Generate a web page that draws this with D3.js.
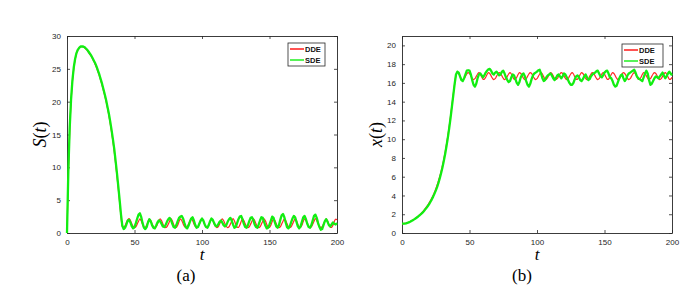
<!DOCTYPE html>
<html>
<head>
<meta charset="utf-8">
<script src="https://cdn.jsdelivr.net/npm/d3@7"></script>
<style>
  body { margin: 0; background: #fff; }
  svg { display: block; }
  .tick text { font-family: "Liberation Sans", Arial, sans-serif; font-size: 8px; fill: #262626; }
  .tick line, .domain { stroke: #262626; }
</style>
</head>
<body>
<svg width="694" height="286"></svg>
<script>
var width = 694;
var height = 286;

// time grid, step 1
var tValues = d3.range(0, 201);

// panel (a): S(t)
var ddeS = [0,9,15.5,20,23,25,26.4,27.3,27.9,28.2,28.35,28.4,28.35,28.2,28.0,27.8,27.5,27.2,26.9,26.5,
  26.1,25.6,25.1,24.5,23.9,23.2,22.5,21.7,20.9,20.0,19.0,17.9,16.7,15.4,14.0,12.4,10.6,8.7,6.7,4.6,
  2.5,1.0,0.8,1.1,1.6,2.0,
  2.2,1.9,1.4,1.0,0.82,0.95,1.35,1.8,
  2.15,1.85,1.3,0.9,0.85,1.2,1.75,
  2.1,1.9,1.4,1.0,0.82,0.95,1.35,1.8,
  2.15,1.9,1.4,1.0,0.82,0.95,1.35,1.8,
  2.2,1.85,1.3,0.9,0.85,1.2,1.75,
  2.15,1.9,1.4,1.0,0.82,0.95,1.35,1.8,
  2.2,1.9,1.4,1.0,0.82,0.95,1.35,1.8,
  2.15,1.85,1.3,0.9,0.85,1.2,1.75,
  2.1,1.9,1.4,1.0,0.82,0.95,1.35,1.8,
  2.15,1.9,1.4,1.0,0.82,0.95,1.35,1.8,
  2.2,1.85,1.3,0.9,0.85,1.2,1.75,
  2.15,1.9,1.4,1.0,0.82,0.95,1.35,1.8,
  2.2,1.9,1.4,1.0,0.82,0.95,1.35,1.8,
  2.15,1.85,1.3,0.9,0.85,1.2,1.75,
  2.1,1.9,1.4,1.0,0.82,0.95,1.35,1.8,
  2.15,1.9,1.4,1.0,0.82,0.95,1.35,1.8,
  2.2,1.85,1.3,0.9,0.85,1.2,1.75,
  2.15,1.9,1.4,1.0,0.82,0.95,1.35,1.8,
  2.2,1.9,1.4,1.0,0.82,0.95,1.35,1.8,
  2.15,1.85,1.3,0.9,0.85,1.2,1.75,
  2.1,2.0];

var sdeS = [0,9.5,16,20.3,23.2,25.2,26.5,27.4,27.9,28.2,28.4,28.4,28.4,28.3,28.1,27.9,27.6,27.3,27.0,26.6,
  26.2,25.8,25.3,24.7,24.1,23.4,22.7,21.9,21.1,20.2,19.2,18.2,17.0,15.7,14.3,12.8,11.0,9.1,7.1,5.0,
  2.8,1.1,0.6,0.8,1.3,1.9,2.0,1.6,1.0,0.7,
  0.9,1.5,2.2,2.8,3.0,2.4,1.5,0.8,0.6,0.9,
  1.6,2.1,1.8,1.2,0.8,0.7,1.1,1.6,1.9,1.8,
  1.4,1.0,0.9,1.2,1.7,2.1,2.3,2.0,1.4,0.9,
  0.8,1.2,1.8,2.3,2.5,2.6,2.2,1.5,0.9,0.7,
  1.1,1.7,2.2,2.4,1.9,1.2,0.8,0.9,1.4,1.9,
  2.2,1.9,1.3,0.9,0.8,1.2,1.8,2.2,2.0,1.5,
  1.1,1.0,1.3,1.7,1.9,1.6,1.2,1.0,1.2,1.7,
  2.1,2.3,1.9,1.3,0.8,0.9,1.5,2.1,2.5,2.6,
  2.1,1.4,0.9,0.8,1.2,1.8,2.3,2.4,2.0,1.3,
  0.9,0.8,1.3,1.9,2.4,2.3,1.7,1.1,0.7,0.8,
  1.3,1.9,2.5,2.3,1.6,1.0,0.8,1.2,2.0,2.7,
  2.9,2.4,1.6,0.9,0.7,1.0,1.6,2.2,2.6,2.4,
  1.7,1.0,0.7,1.0,1.7,2.4,2.6,2.1,1.4,0.9,
  0.8,1.2,1.9,2.6,2.8,2.3,1.5,0.9,0.5,0.6,
  1.2,1.8,2.1,1.7,1.2,1.0,1.3,1.6,1.4,1.3,
  1.5];

// panel (b): x(t)
var ddeX = [1.0,1.0,1.02,1.05,1.1,1.15,1.22,1.3,1.38,1.47,1.57,1.68,1.8,1.93,2.07,2.22,2.38,2.56,2.75,2.96,
  3.18,3.43,3.7,4.0,4.33,4.7,5.1,5.55,6.05,6.6,7.2,7.9,8.65,9.5,10.4,11.4,12.5,13.6,14.8,15.9,16.8,
  17.15,17.0,16.7,16.4,16.3,16.45,16.7,16.95,
  17.1,17.0,16.75,16.5,16.35,16.45,16.7,16.95,
  17.1,16.95,16.65,16.4,16.4,16.6,16.9,
  17.1,17.0,16.75,16.5,16.35,16.45,16.7,16.95,
  17.1,17.0,16.75,16.5,16.35,16.45,16.7,16.95,
  17.1,16.95,16.65,16.4,16.4,16.6,16.9,
  17.1,17.0,16.75,16.5,16.35,16.45,16.7,16.95,
  17.1,17.0,16.75,16.5,16.35,16.45,16.7,16.95,
  17.1,16.95,16.65,16.4,16.4,16.6,16.9,
  17.1,17.0,16.75,16.5,16.35,16.45,16.7,16.95,
  17.1,17.0,16.75,16.5,16.35,16.45,16.7,16.95,
  17.1,16.95,16.65,16.4,16.4,16.6,16.9,
  17.1,17.0,16.75,16.5,16.35,16.45,16.7,16.95,
  17.1,17.0,16.75,16.5,16.35,16.45,16.7,16.95,
  17.1,16.95,16.65,16.4,16.4,16.6,16.9,
  17.1,17.0,16.75,16.5,16.35,16.45,16.7,16.95,
  17.1,17.0,16.75,16.5,16.35,16.45,16.7,16.95,
  17.1,16.95,16.65,16.4,16.4,16.6,16.9,
  17.1,17.0,16.75,16.5,16.35,16.45,16.7,16.95,
  17.1,17.0,16.75,16.5,16.35,16.45,16.7,16.95,
  17.1,16.95,16.65,16.4,16.4,16.6];

var sdeX = [1.0,1.0,1.0,1.03,1.08,1.13,1.2,1.28,1.36,1.45,1.55,1.65,1.76,1.88,2.0,2.14,2.3,2.47,2.65,2.85,
  3.05,3.3,3.56,3.85,4.17,4.52,4.9,5.35,5.85,6.4,7.0,7.7,8.45,9.3,10.2,11.2,12.3,13.5,14.7,15.9,16.9,
  17.2,17.1,16.7,16.3,16.2,16.5,16.9,17.3,17.35,
  17.3,16.9,16.3,15.8,15.6,15.9,16.5,16.9,17.0,16.8,
  16.6,16.8,17.1,17.3,17.45,17.5,17.3,17.0,16.9,17.1,
  17.2,17.0,16.8,16.9,17.2,17.3,17.0,16.6,16.3,16.1,
  16.2,16.6,16.9,16.8,16.4,16.0,15.8,16.1,16.6,16.9,
  17.0,16.7,16.2,15.8,15.6,15.9,16.4,16.8,17.0,17.1,
  17.2,17.35,17.4,17.0,16.5,16.2,16.3,16.6,16.8,16.9,
  17.0,16.8,16.5,16.3,16.5,16.8,16.9,16.7,16.5,16.7,
  17.0,16.9,16.6,16.3,16.0,15.8,15.8,16.0,16.4,16.7,
  16.8,16.6,16.3,16.2,16.4,16.7,16.9,16.6,16.3,16.4,
  16.7,16.9,17.0,17.1,17.25,17.3,17.0,16.7,16.6,16.8,
  17.1,17.25,17.3,17.0,16.6,16.5,16.2,15.8,15.6,15.7,
  16.1,16.5,16.8,16.9,16.5,16.2,16.4,16.8,17.0,17.1,
  17.2,17.3,17.4,17.1,16.7,16.5,16.4,16.3,16.2,16.6,
  17.0,17.3,17.0,16.3,15.8,15.9,16.2,16.5,16.7,16.6,
  16.5,16.7,16.9,17.1,16.8,16.5,16.7,17.0,17.2,17.0,
  16.8];

var xTicks = [0, 50, 100, 150, 200];
var sTicks = [0, 5, 10, 15, 20, 25, 30];
var xyTicks = [0, 2, 4, 6, 8, 10, 12, 14, 16, 18, 20];
var seriesNames = ["DDE", "SDE"];
var seriesColors = ["#ff2828", "#11ee11"];

var svg = d3.select("svg");

function drawPanel(opt) {
  var x = d3.scaleLinear().domain([0, 200]).range([opt.left, opt.right]);
  var y = d3.scaleLinear().domain(opt.yDomain).range([opt.bottom, opt.top]);
  var g = svg.append("g");

  // box with inward ticks on all sides
  g.append("g").attr("transform", "translate(0," + opt.bottom + ")")
    .call(d3.axisBottom(x).tickValues(xTicks).tickSizeInner(-3).tickSizeOuter(0).tickPadding(6));
  g.append("g").attr("transform", "translate(0," + opt.top + ")")
    .call(d3.axisTop(x).tickValues(xTicks).tickSizeInner(-3).tickSizeOuter(0).tickFormat(""));
  g.append("g").attr("transform", "translate(" + opt.left + ",0)")
    .call(d3.axisLeft(y).tickValues(opt.yTicks).tickSizeInner(-3).tickSizeOuter(0).tickPadding(6));
  g.append("g").attr("transform", "translate(" + opt.right + ",0)")
    .call(d3.axisRight(y).tickValues(opt.yTicks).tickSizeInner(-3).tickSizeOuter(0).tickFormat(""));
  g.selectAll(".domain").attr("stroke-width", 0.9);
  g.selectAll(".tick line").attr("stroke-width", 0.8);

  var smooth = d3.line()
    .x(function (d, i) { return x(tValues[i]); })
    .y(function (d) { return y(d); })
    .curve(d3.curveCatmullRom);
  var rough = d3.line()
    .x(function (d, i) { return x(tValues[i]); })
    .y(function (d) { return y(d); });

  g.append("path").datum(opt.dde)
    .attr("fill", "none").attr("stroke", seriesColors[0]).attr("stroke-width", 1.2)
    .attr("d", smooth);
  g.append("path").datum(opt.sde)
    .attr("fill", "none").attr("stroke", seriesColors[1]).attr("stroke-width", 2.3)
    .attr("stroke-linejoin", "round")
    .attr("d", rough);

  // x label
  g.append("text")
    .attr("x", (opt.left + opt.right) / 2).attr("y", 260)
    .attr("text-anchor", "middle")
    .style("font-family", "'Liberation Serif', 'Times New Roman', serif")
    .style("font-style", "italic").style("font-size", "17px")
    .text("t");

  // y label
  var yl = g.append("text")
    .attr("transform", "translate(" + opt.yLabelX + "," + ((opt.top + opt.bottom) / 2) + ") rotate(-90)")
    .attr("text-anchor", "middle")
    .style("font-family", "'Liberation Serif', 'Times New Roman', serif")
    .style("font-size", "18px");
  yl.append("tspan").style("font-style", "italic").text(opt.yName);
  yl.append("tspan").text("(");
  yl.append("tspan").style("font-style", "italic").text("t");
  yl.append("tspan").text(")");

  // caption
  g.append("text")
    .attr("x", opt.captionX).attr("y", 281)
    .attr("text-anchor", "middle")
    .style("font-family", "'Liberation Serif', 'Times New Roman', serif")
    .style("font-size", "17px")
    .text(opt.caption);

  // legend
  var lg = g.append("g").attr("transform", "translate(" + opt.legX + "," + opt.legY + ")");
  lg.append("rect").attr("width", opt.legW).attr("height", 23)
    .attr("fill", "#fff").attr("stroke", "#262626").attr("stroke-width", 0.8);
  seriesNames.forEach(function (name, i) {
    var yy = 6 + i * 11;
    lg.append("line").attr("x1", 2).attr("x2", 16).attr("y1", yy).attr("y2", yy)
      .attr("stroke", seriesColors[i]).attr("stroke-width", i === 0 ? 1.6 : 1.4);
    lg.append("text").attr("x", 17).attr("y", yy + 2.6)
      .style("font-family", "'Liberation Sans', Arial, sans-serif")
      .style("font-size", "7.5px").style("font-weight", "bold").attr("fill", "#111")
      .text(name);
  });
}

drawPanel({
  left: 67, right: 337, top: 36, bottom: 233,
  yDomain: [0, 30], yTicks: sTicks,
  dde: ddeS, sde: sdeS,
  yName: "S", yLabelX: 46, caption: "(a)", captionX: 186,
  legX: 288, legY: 43, legW: 37
});

drawPanel({
  left: 402, right: 672, top: 36, bottom: 233,
  yDomain: [0, 21], yTicks: xyTicks,
  dde: ddeX, sde: sdeX,
  yName: "x", yLabelX: 382, caption: "(b)", captionX: 522,
  legX: 622, legY: 44, legW: 41
});
</script>
</body>
</html>
